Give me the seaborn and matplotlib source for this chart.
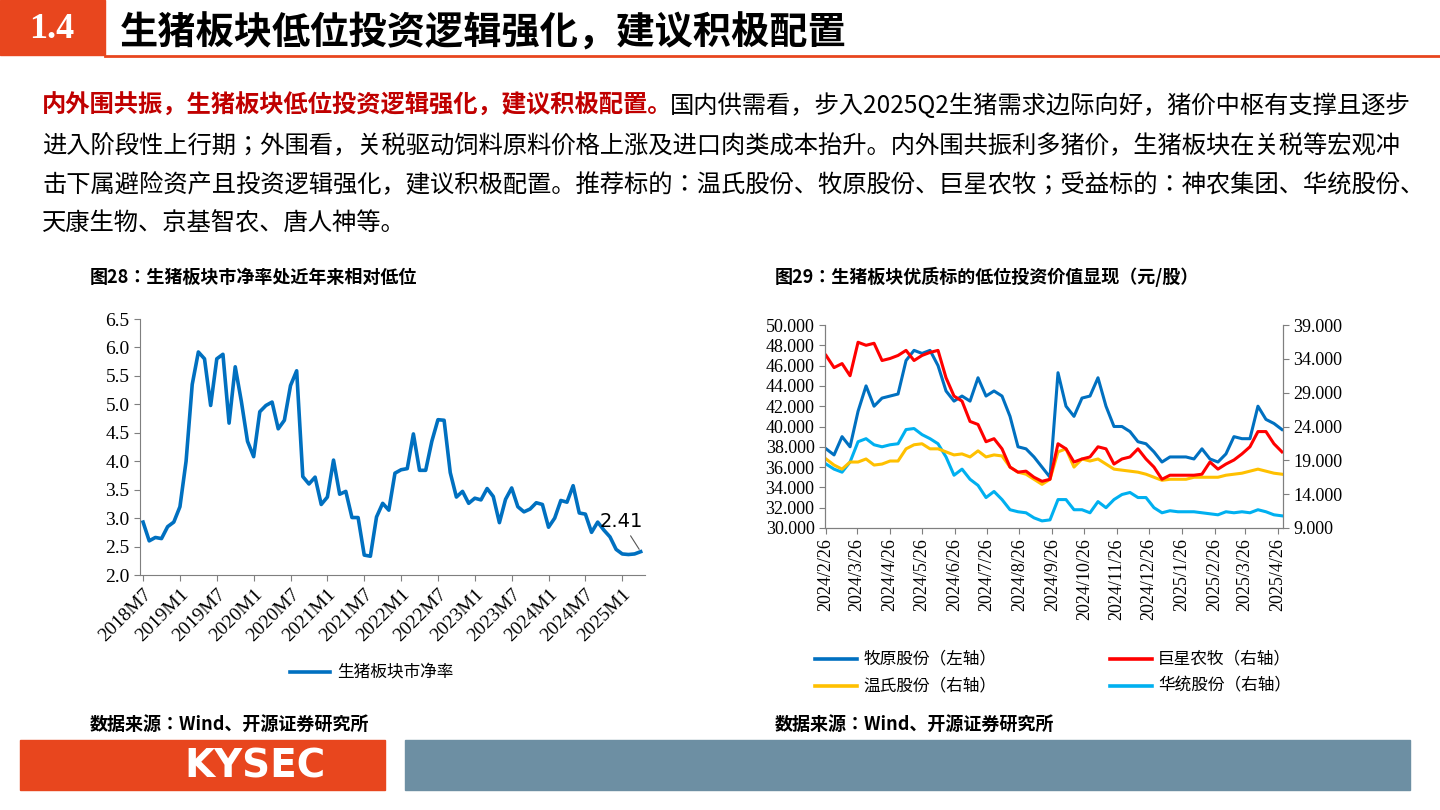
import numpy as np
import pandas as pd
import matplotlib.pyplot as plt
from matplotlib.patches import Rectangle
from matplotlib.lines import Line2D
import seaborn as sns

CJK = ["Noto Sans CJK SC", "Noto Sans CJK JP", "Noto Sans CJK TC", "DejaVu Sans"]
SERIF = "Liberation Serif"
plt.rcParams["font.family"] = "sans-serif"
plt.rcParams["font.sans-serif"] = CJK

# ---- data: 图28 生猪板块市净率 (monthly, 2018M7 - 2025M4)
pb_values = [2.93, 2.60, 2.66, 2.64, 2.85, 2.93,
             3.20, 4.00, 5.35, 5.92, 5.80, 4.98, 5.80, 5.88, 4.67, 5.66, 5.05, 4.35,
             4.08, 4.87, 4.98, 5.04, 4.57, 4.72, 5.33, 5.59, 3.73, 3.60, 3.72, 3.24,
             3.37, 4.02, 3.42, 3.47, 3.01, 3.01, 2.35, 2.33, 3.02, 3.26, 3.14, 3.79,
             3.85, 3.87, 4.48, 3.84, 3.84, 4.35, 4.73, 4.72, 3.80, 3.37, 3.47, 3.26,
             3.35, 3.32, 3.52, 3.38, 2.92, 3.33, 3.53, 3.20, 3.11, 3.16, 3.27, 3.24,
             2.84, 3.00, 3.31, 3.28, 3.57, 3.09, 3.07, 2.75, 2.93, 2.79, 2.67, 2.45,
             2.37, 2.36, 2.37, 2.41]
pb_labels = ["2018M7", "2019M1", "2019M7", "2020M1", "2020M7", "2021M1", "2021M7",
             "2022M1", "2022M7", "2023M1", "2023M7", "2024M1", "2024M7", "2025M1"]

# ---- data: 图29 stock prices (weekly-ish, 2024/2/26 - 2025/4/30)
muyuan = [37.8, 37.2, 39.0, 38.0, 41.5, 44.0, 42.0, 42.8, 43.0, 43.2, 46.5, 47.5, 47.2, 47.5,
          46.0, 43.5, 42.5, 43.0, 42.5, 44.8, 43.0, 43.5, 43.0, 41.0, 38.0, 37.8, 37.0, 36.0,
          35.0, 45.3, 42.0, 41.0, 42.8, 43.0, 44.8, 42.0, 40.0, 40.0, 39.5, 38.5, 38.3, 37.5,
          36.5, 37.0, 37.0, 37.0, 36.8, 37.8, 36.8, 36.5, 37.3, 39.0, 38.8, 38.8, 42.0, 40.7,
          40.3, 39.7]
juxing = [34.5, 32.7, 33.3, 31.5, 36.45, 36.0, 36.3, 33.75, 34.05, 34.5, 35.25, 33.75, 34.5, 34.95,
          35.25, 31.2, 28.5, 27.75, 24.75, 24.3, 21.75, 22.2, 20.7, 18.0, 17.25, 17.4, 16.5, 15.9,
          16.2, 21.45, 20.7, 18.75, 19.2, 19.5, 21.0, 20.7, 18.45, 19.2, 19.5, 20.7, 19.2, 18.0,
          16.2, 16.8, 16.8, 16.8, 16.8, 16.95, 18.75, 17.7, 18.45, 19.05, 19.95, 21.0, 23.25, 23.25,
          21.45, 20.25]
wens = [19.2, 18.3, 17.7, 18.75, 18.75, 19.2, 18.3, 18.45, 18.9, 18.9, 20.7, 21.3, 21.45, 20.7,
        20.7, 20.25, 19.8, 19.95, 19.5, 20.4, 19.5, 19.8, 19.65, 18.0, 17.25, 16.95, 16.2, 15.45,
        16.2, 20.25, 20.7, 18.0, 19.2, 18.9, 19.2, 18.45, 17.7, 17.55, 17.4, 17.25, 16.95, 16.5,
        16.05, 16.2, 16.2, 16.2, 16.5, 16.5, 16.5, 16.5, 16.8, 16.95, 17.1, 17.4, 17.7, 17.4,
        17.1, 16.95]
huatong = [18.45, 17.7, 17.25, 18.75, 21.75, 22.2, 21.3, 21.0, 21.3, 21.45, 23.55, 23.7, 22.8, 22.2,
           21.45, 19.5, 16.8, 17.7, 16.2, 15.3, 13.5, 14.4, 13.2, 11.7, 11.4, 11.25, 10.5, 10.05,
           10.2, 13.2, 13.2, 11.7, 11.7, 11.25, 12.9, 12.0, 13.2, 13.95, 14.25, 13.5, 13.5, 12.0,
           11.25, 11.55, 11.4, 11.4, 11.4, 11.25, 11.1, 10.95, 11.4, 11.25, 11.4, 11.25, 11.7, 11.4,
           10.95, 10.8]
price_dates = pd.date_range("2024-02-26", "2025-04-30", periods=len(muyuan))
date_ticks = pd.date_range("2024-02-01", "2025-04-26", freq="MS") + pd.Timedelta(days=25)

BLUE, RED, YELLOW, CYAN = "#0070c0", "#ff0000", "#ffc000", "#00b0f0"
ORANGE = "#e8461e"

W, H = 1440, 810
fig = plt.figure(figsize=(14.4, 8.1), dpi=100)


def rect(x0, y0, x1, y1):
    # pixel box (top-left origin) -> figure fraction [l, b, w, h]
    return [x0 / W, 1 - y1 / H, (x1 - x0) / W, (y1 - y0) / H]


def ftext(x, y, s, **kw):
    return fig.text(x / W, 1 - y / H, s, **kw)


# header
fig.patches.append(Rectangle((0, 1 - 55 / H), 105 / W, 55 / H, transform=fig.transFigure,
                             color=ORANGE))
fig.add_artist(Line2D([105 / W, 1], [1 - 56 / H] * 2, color=ORANGE, lw=2))
ftext(52, 30, "1.4", color="white", fontsize=26, fontweight="bold", family=SERIF,
      ha="center", va="center")
ftext(120, 33, "生猪板块低位投资逻辑强化，建议积极配置", fontsize=27.5, fontweight="bold",
      va="center")

# paragraph
red_part = "内外围共振，生猪板块低位投资逻辑强化，建议积极配置。"
lines = ["国内供需看，步入2025Q2生猪需求边际向好，猪价中枢有支撑且逐步",
         "进入阶段性上行期；外围看，关税驱动饲料原料价格上涨及进口肉类成本抬升。内外围共振利多猪价，生猪板块在关税等宏观冲",
         "击下属避险资产且投资逻辑强化，建议积极配置。推荐标的：温氏股份、牧原股份、巨星农牧；受益标的：神农集团、华统股份、",
         "天康生物、京基智农、唐人神等。"]
ftext(42, 106, red_part, fontsize=17.5, fontweight="bold", color="#c00000", va="center")
ftext(670, 106, lines[0], fontsize=17.5, va="center")
for i, s in enumerate(lines[1:]):
    ftext(42, 146 + 39 * i, s, fontsize=17.5, va="center")

# chart titles / sources
ftext(90, 277, "图28：生猪板块市净率处近年来相对低位", fontsize=13, fontweight="bold", va="center")
ftext(775, 277, "图29：生猪板块优质标的低位投资价值显现（元/股）", fontsize=13, fontweight="bold", va="center")
ftext(90, 724, "数据来源：Wind、开源证券研究所", fontsize=13, fontweight="bold", va="center")
ftext(775, 724, "数据来源：Wind、开源证券研究所", fontsize=13, fontweight="bold", va="center")

# footer
fig.patches.append(Rectangle((20 / W, 1 - 790 / H), 365 / W, 50 / H, transform=fig.transFigure, color=ORANGE))
fig.patches.append(Rectangle((405 / W, 1 - 790 / H), 1005 / W, 50 / H, transform=fig.transFigure, color="#6d8fa3"))
ftext(255, 767, "KYSEC", color="white", fontsize=28, fontweight="bold", family="DejaVu Sans",
      ha="center", va="center")

# ---- left chart
ax1 = fig.add_axes(rect(140, 319, 645, 575))
pb_df = pd.DataFrame({"idx": np.arange(len(pb_values)), "pb": pb_values})
sns.lineplot(data=pb_df, x="idx", y="pb", ax=ax1, color=BLUE, lw=2.6)
ax1.set_ylim(2.0, 6.5)
ax1.set_yticks(np.arange(2.0, 6.51, 0.5))
ax1.set_yticklabels([f"{v:.1f}" for v in np.arange(2.0, 6.51, 0.5)])
ax1.set_xlim(-0.5, len(pb_values) - 0.3)
ax1.set_xticks(np.arange(0, len(pb_values), 6))
ax1.set_xticklabels(pb_labels, rotation=45, ha="right", rotation_mode="anchor")
ax1.annotate("2.41", xy=(len(pb_values) - 1, pb_values[-1]), xytext=(-14, 18),
             textcoords="offset points", fontsize=14, family="DejaVu Sans", ha="center",
             arrowprops=dict(arrowstyle="-", color="#555555", lw=0.8))
ax1.set_xlabel("")
ax1.set_ylabel("")
for s in ["top", "right"]:
    ax1.spines[s].set_visible(False)
for s in ["left", "bottom"]:
    ax1.spines[s].set_color("#7f7f7f")
ax1.tick_params(labelsize=14, length=4, color="#7f7f7f")
for t in ax1.get_xticklabels() + ax1.get_yticklabels():
    t.set_family(SERIF)
fig.add_artist(Line2D([290 / W, 330 / W], [1 - 672 / H] * 2, color=BLUE, lw=2.6))
ftext(337, 672, "生猪板块市净率", fontsize=12, va="center")

# ---- right chart
ax2 = fig.add_axes(rect(825, 325, 1283, 528))
ax3 = ax2.twinx()
pr = pd.DataFrame({"date": price_dates, "muyuan": muyuan, "juxing": juxing,
                   "wens": wens, "huatong": huatong})
sns.lineplot(data=pr, x="date", y="muyuan", ax=ax2, color=BLUE, lw=2.2)
sns.lineplot(data=pr, x="date", y="huatong", ax=ax3, color=CYAN, lw=2.2)
sns.lineplot(data=pr, x="date", y="wens", ax=ax3, color=YELLOW, lw=2.2)
sns.lineplot(data=pr, x="date", y="juxing", ax=ax3, color=RED, lw=2.2)
ax2.set_ylim(30, 50)
ax2.set_yticks(np.arange(30, 50.1, 2))
ax2.set_yticklabels([f"{v:.3f}" for v in np.arange(30, 50.1, 2)])
ax3.set_ylim(9, 39)
ax3.set_yticks(np.arange(9, 39.1, 5))
ax3.set_yticklabels([f"{v:.3f}" for v in np.arange(9, 39.1, 5)])
ax2.set_xlim(pd.Timestamp("2024-02-25"), pd.Timestamp("2025-05-01"))
ax2.set_xticks(date_ticks)
ax2.set_xticklabels([f"{d.year}/{d.month}/{d.day}" for d in date_ticks], rotation=90)
for a in (ax2, ax3):
    a.set_xlabel("")
    a.set_ylabel("")
    a.spines["top"].set_visible(False)
    for s in ["left", "right", "bottom"]:
        a.spines[s].set_color("#7f7f7f")
    a.tick_params(labelsize=13, length=4, color="#7f7f7f")
    for t in a.get_xticklabels() + a.get_yticklabels():
        t.set_family(SERIF)

legend_items = [(815, 659, BLUE, "牧原股份（左轴）"), (1110, 659, RED, "巨星农牧（右轴）"),
                (815, 686, YELLOW, "温氏股份（右轴）"), (1110, 686, CYAN, "华统股份（右轴）")]
for x, y, c, s in legend_items:
    fig.add_artist(Line2D([x / W, (x + 42) / W], [1 - y / H] * 2, color=c, lw=2.6))
    ftext(x + 48, y, s, fontsize=12, va="center")

fig.savefig("out.png", dpi=100)
